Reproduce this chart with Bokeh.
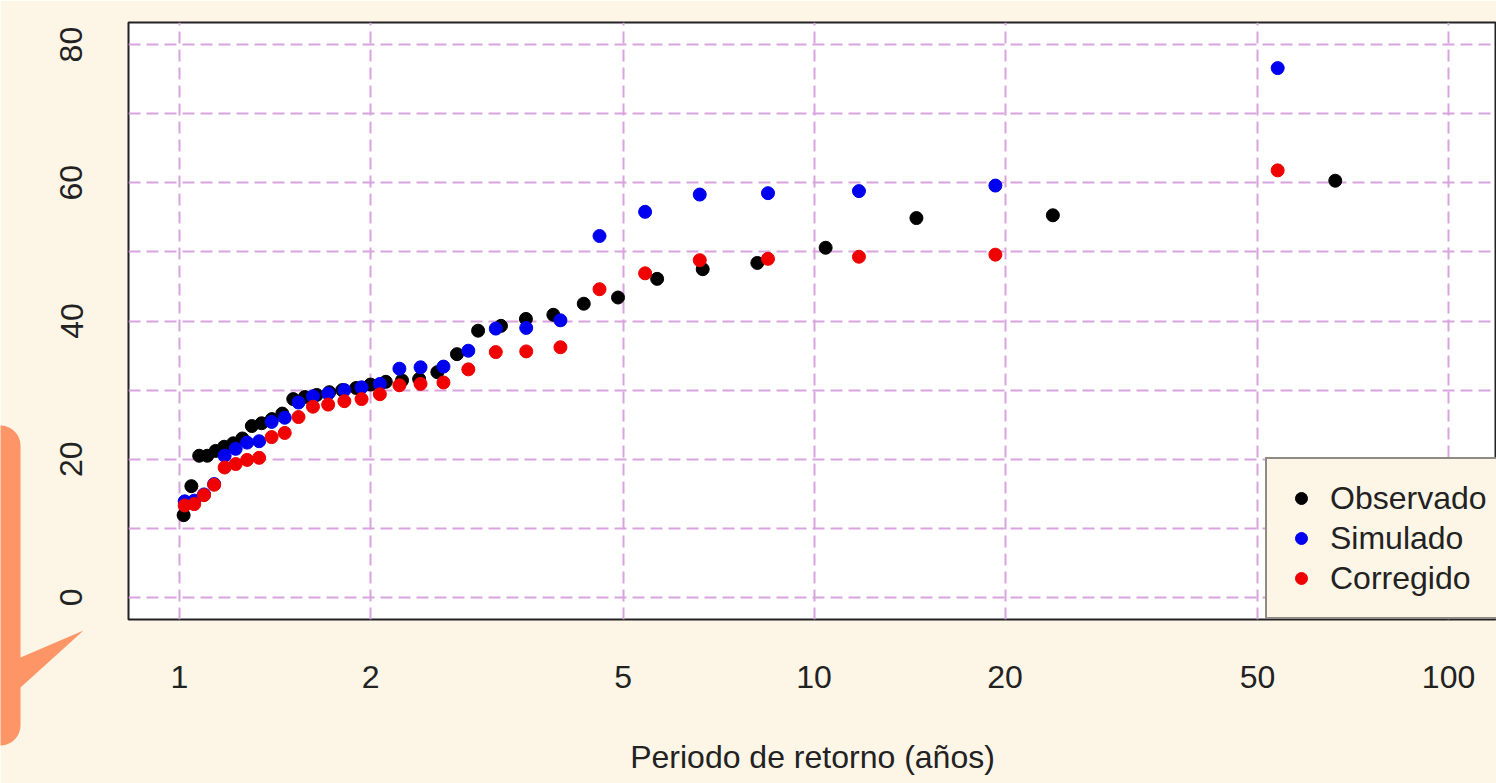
import math
from bokeh.plotting import figure
from bokeh.models import (Range1d, FixedTicker, Legend, LegendItem, GridBox,
                          CustomJSTickFormatter)
from bokeh.embed import file_html
from bokeh.resources import INLINE

# ---- data ----
obs_T = [66.29, 23.79, 14.50, 10.43, 8.140, 6.676, 5.659, 4.910, 4.336, 3.883,
         3.515, 3.211, 2.955, 2.737, 2.549, 2.386, 2.242, 2.114, 2.000, 1.898,
         1.805, 1.722, 1.645, 1.576, 1.511, 1.452, 1.398, 1.347, 1.300, 1.256,
         1.215, 1.176, 1.140, 1.106, 1.074, 1.044, 1.015]
obs_P = [60.3, 55.3, 54.9, 50.6, 48.4, 47.5, 46.1, 43.4, 42.5, 40.9,
         40.3, 39.3, 38.6, 35.2, 32.6, 31.6, 31.4, 31.2, 30.8, 30.3,
         30.0, 29.7, 29.3, 29.0, 28.7, 26.6, 25.8, 25.2, 24.8, 23.0,
         22.3, 21.8, 21.2, 20.5, 20.5, 16.1, 11.9]

mod_T = [53.79, 19.31, 11.77, 8.461, 6.605, 5.417, 4.591, 3.984, 3.519, 3.151,
         2.852, 2.606, 2.398, 2.221, 2.069, 1.936, 1.819, 1.715, 1.623, 1.540,
         1.465, 1.397, 1.335, 1.278, 1.226, 1.178, 1.134, 1.093, 1.055, 1.019]
sim_P = [76.6, 59.6, 58.8, 58.5, 58.3, 55.8, 52.3, 40.1, 39.0, 38.9,
         35.7, 33.4, 33.3, 33.1, 30.9, 30.4, 30.0, 29.5, 29.1, 28.2,
         26.0, 25.4, 22.6, 22.4, 21.5, 20.5, 16.4, 14.9, 14.0, 13.9]
cor_P = [61.8, 49.6, 49.3, 49.0, 48.8, 46.9, 44.6, 36.2, 35.6, 35.5,
         33.0, 31.1, 30.9, 30.7, 29.4, 28.7, 28.4, 27.9, 27.6, 26.1,
         23.8, 23.2, 20.2, 19.9, 19.3, 18.8, 16.3, 14.8, 13.5, 13.3]

x_ticks = [1, 2, 5, 10, 20, 50, 100]
y_ticks = [0, 20, 40, 60, 80]
y_grid = [0, 10, 20, 30, 40, 50, 60, 70, 80]
series_names = ["Observado", "Simulado", "Corregido"]
x_label = "Periodo de retorno (años)"

BG = "#FDF5E6"
FONT = "Liberation Sans"
GRID = "#D9A3DF"
FS = "32px"
W, H = 1496, 783

p = figure(width=W, height=H, x_axis_type="log",
           x_range=Range1d(0.831, 119.0), y_range=Range1d(-3.2, 83.2),
           output_backend="svg", toolbar_location=None,
           min_border_left=128, min_border_right=0, min_border_top=22,
           min_border_bottom=164,
           background_fill_color="white", border_fill_color=BG,
           outline_line_color="#222222", outline_line_width=2)

# axes
p.xaxis.ticker = FixedTicker(ticks=x_ticks)
p.xaxis.formatter = CustomJSTickFormatter(code="return tick.toString();")
p.yaxis.ticker = FixedTicker(ticks=y_ticks)
p.yaxis.major_label_orientation = "vertical"
for ax in (p.xaxis, p.yaxis):
    ax.axis_line_color = None
    ax.major_tick_line_color = None
    ax.minor_tick_line_color = None
    ax.major_tick_out = 0
    ax.major_tick_in = 0
    ax.major_label_text_font = FONT
    ax.major_label_text_font_size = FS
    ax.major_label_text_color = "#222222"
p.xaxis.major_label_standoff = 46
p.yaxis.major_label_standoff = 46
p.xaxis.axis_label = x_label
p.xaxis.axis_label_text_font = FONT
p.xaxis.axis_label_text_font_size = FS
p.xaxis.axis_label_text_font_style = "normal"
p.xaxis.axis_label_text_color = "#222222"
p.xaxis.axis_label_standoff = 48

# grid
p.xgrid.ticker = FixedTicker(ticks=x_ticks)
p.ygrid.ticker = FixedTicker(ticks=y_grid)
for g in (p.xgrid, p.ygrid):
    g.grid_line_color = GRID
    g.grid_line_width = 2
    g.grid_line_dash = "12 6"

# points
r_obs = p.scatter(obs_T, obs_P, size=13, fill_color="black", line_color="black")
r_sim = p.scatter(mod_T, sim_P, size=13, fill_color="#0000F0", line_color="#0000F0")
r_cor = p.scatter(mod_T, cor_P, size=13, fill_color="#F00000", line_color="#F00000")

legend = Legend(items=[LegendItem(label=series_names[0], renderers=[r_obs]),
                       LegendItem(label=series_names[1], renderers=[r_sim]),
                       LegendItem(label=series_names[2], renderers=[r_cor])],
                location=(1137, 0), margin=0, padding=19, spacing=0,
                glyph_width=30, glyph_height=40, label_height=40, label_standoff=14,
                label_text_font=FONT, label_text_font_size=FS,
                label_text_color="#222222",
                border_line_color="#222222", border_line_width=2,
                background_fill_color=BG, background_fill_alpha=1)
p.add_layout(legend)

# ---- transparent overlay holding the orange speech-bubble shape at the left edge ----
ov = figure(width=W, height=H, x_range=Range1d(0, W), y_range=Range1d(H, 0),
            output_backend="svg", toolbar_location=None,
            x_axis_location=None, y_axis_location=None, min_border=0,
            background_fill_alpha=0, border_fill_alpha=0, outline_line_color=None)
ov.frame_align = False
ov.grid.visible = False
r = 20
bx, by = [-12], [425]
for k in range(10):
    a = math.radians(k * 10)
    bx.append(0 + r * math.sin(a)); by.append(445 - r * math.cos(a))
bx += [20, 20, 83, 20, 20]
by += [445, 657, 630, 687, 725]
for k in range(10):
    a = math.radians(k * 10)
    bx.append(0 + r * math.cos(a)); by.append(725 + r * math.sin(a))
bx += [0, -12]
by += [745, 745]
ov.patch(bx, by, fill_color="#FE9567", line_color=None)

layout = GridBox(children=[(p, 0, 0), (ov, 0, 0)])
open("out.html", "w").write(file_html(layout, INLINE))
